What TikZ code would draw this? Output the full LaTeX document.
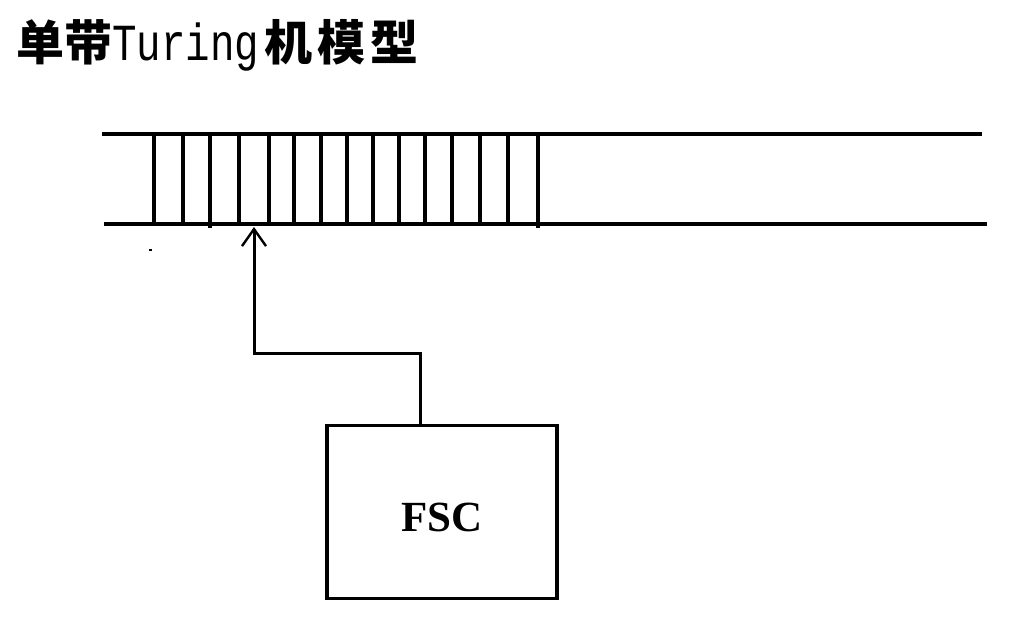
\documentclass[tikz,border=0pt]{standalone}
\usepackage{fontspec}
\setmainfont{Liberation Serif}
\newfontfamily\cjk{Noto Sans CJK SC}
\newfontfamily\monofont{Liberation Mono}
\usetikzlibrary{arrows.meta}
\tikzset{
    tapeline/.style={line width=3.2pt},
    headarrow/.style={line width=3pt, -{Straight Barb[length=17pt,width=24pt,line width=2.4pt]}},
    fscbox/.style={draw, line width=3.2pt, minimum width=230pt, minimum height=173pt, inner sep=0pt}
}
\begin{document}
\begin{tikzpicture}[x=1pt,y=-1pt]
    \useasboundingbox (0,0) rectangle (1017,622);
    % title
    \node[anchor=base west, inner sep=0pt] (title) at (16,60)
        {\fontsize{48}{48}\selectfont\cjk\bfseries 单带{\monofont\mdseries\fontsize{40}{40}\selectfont\scalebox{1.02}[1.3]{Turing}}\hspace{5pt}机\hspace{5pt}模\hspace{5pt}型};
    % tape
    \draw[tapeline] (102,134)--(982,134);
    \draw[tapeline] (104,224)--(987,224);
    \foreach \x in {154,183,239,269,294,321,347,373,399,425,452,480,508}
        \draw[tapeline] (\x,134)--(\x,224);
    \draw[tapeline] (210,134)--(210,228);
    \draw[tapeline] (538,134)--(538,228);
    \fill (148.5,249) rectangle (151.5,251);
    % finite state control
    \node[fscbox] (fsc) at (442,512) {};
    \node[font=\fontsize{43}{43}\selectfont\bfseries] (fsclabel) at ([yshift=-5pt]fsc.center) {FSC};
    \coordinate (head) at (254,227);
    \draw[headarrow] ([xshift=-22pt]fsc.north) -- ++(0,-70) -| (head);
\end{tikzpicture}
\end{document}
